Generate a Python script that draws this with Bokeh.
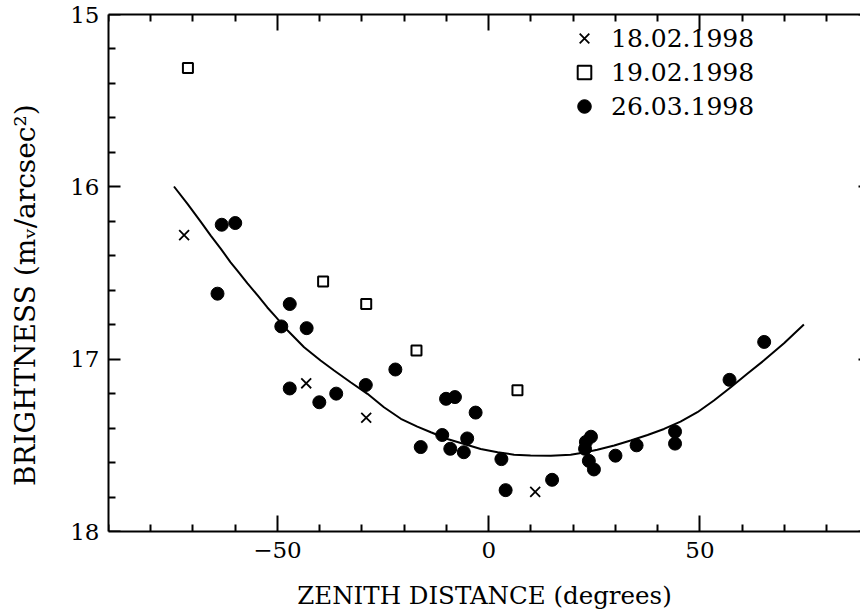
from bokeh.plotting import figure
from bokeh.models import Range1d, LinearAxis, FixedTicker
from bokeh.embed import file_html
from bokeh.resources import INLINE

# --- data ---
# 18.02.1998 (crosses)
z_180298 = [-72.1, -43.2, -29.0, 11.0]
b_180298 = [16.28, 17.14, 17.34, 17.77]
# 19.02.1998 (open squares)
z_190298 = [-71.2, -39.2, -29.0, -17.1, 6.8]
b_190298 = [15.31, 16.55, 16.68, 16.95, 17.18]
# 26.03.1998 (filled circles)
z_260398 = [-64.2, -63.2, -60.0, -49.1, -47.1, -43.1, -47.1, -40.1, -36.1, -29.1,
            -22.1, -16.1, -11.0, -10.1, -8.0, -9.1, -5.9, -5.1, -3.1, 3.0,
            4.0, 15.0, 24.2, 23.0, 22.8, 23.7, 24.9, 30.0, 35.0, 44.1,
            44.1, 57.0, 65.2]
b_260398 = [16.62, 16.22, 16.21, 16.81, 16.68, 16.82, 17.17, 17.25, 17.20, 17.15,
            17.06, 17.51, 17.44, 17.23, 17.22, 17.52, 17.54, 17.46, 17.31, 17.58,
            17.76, 17.70, 17.45, 17.48, 17.52, 17.59, 17.64, 17.56, 17.50, 17.42,
            17.49, 17.12, 16.90]
# fitted curve
curve_z = [-74.5, -71.3, -68.1, -65.8, -63.4, -61.1, -59.5, -57.1, -54.7, -52.4,
           -50.4, -47.6, -43.7, -39.8, -36.6, -32.7, -28.7, -24.8, -20.8, -16.9,
           -13.7, -9.8, -5.8, -1.9, 2.1, 6.0, 9.9, 14.7, 19.4, 22.6,
           25.7, 29.7, 33.6, 37.6, 41.5, 45.4, 49.4, 53.3, 57.3, 61.2,
           65.1, 69.9, 74.6]
curve_b = [15.998, 16.099, 16.205, 16.283, 16.360, 16.438, 16.486, 16.560, 16.630, 16.700,
           16.755, 16.834, 16.931, 17.008, 17.066, 17.134, 17.201, 17.279, 17.346, 17.391,
           17.424, 17.463, 17.492, 17.521, 17.540, 17.554, 17.559, 17.561, 17.554, 17.542,
           17.526, 17.501, 17.472, 17.440, 17.405, 17.362, 17.308, 17.240, 17.163, 17.085,
           17.008, 16.908, 16.799]

x_major = [-50, 0, 50]
x_minor = [-90, -80, -70, -60, -40, -30, -20, -10, 10, 20, 30, 40, 60, 70, 80]
y_major = [15, 16, 17, 18]
y_minor = [15.2, 15.4, 15.6, 15.8, 16.2, 16.4, 16.6, 16.8, 17.2, 17.4, 17.6, 17.8]

labels = ["18.02.1998", "19.02.1998", "26.03.1998"]
x_title = "ZENITH DISTANCE (degrees)"
y_title = "BRIGHTNESS (m\u1d65/arcsec\u00b2)" + "\u00a0" * 5

FONT = "DejaVu Serif"

p = figure(width=860, height=615, x_range=Range1d(-90, 88.0), y_range=Range1d(18, 15),
           output_backend="svg", toolbar_location=None,
           x_axis_location=None, y_axis_location=None,
           min_border_left=108, min_border_right=0, min_border_top=14, min_border_bottom=84)
p.outline_line_color = None
p.background_fill_color = "white"
p.border_fill_color = "white"
p.xgrid.visible = False
p.ygrid.visible = False

NONE = FixedTicker(ticks=[], minor_ticks=[])


def base(ax):
    ax.major_tick_in = 0
    ax.major_tick_out = 0
    ax.minor_tick_in = 0
    ax.minor_tick_out = 0
    ax.axis_line_width = 2
    ax.axis_line_color = "black"
    ax.major_label_text_font = FONT
    ax.major_label_text_color = "black"
    ax.axis_label_text_font = FONT
    ax.axis_label_text_font_style = "normal"
    ax.axis_label_text_color = "black"


# label axes (frame lines + numbers + titles)
bottom = LinearAxis(ticker=FixedTicker(ticks=x_major, minor_ticks=[]), axis_label=x_title)
base(bottom)
bottom.major_label_text_font_size = "23px"
bottom.axis_label_text_font_size = "24.5px"
bottom.major_label_standoff = 10
bottom.axis_label_standoff = 20
p.add_layout(bottom, "below")

left = LinearAxis(ticker=FixedTicker(ticks=y_major, minor_ticks=[]), axis_label=y_title)
base(left)
left.major_label_text_font_size = "23px"
left.axis_label_text_font_size = "28px"
left.major_label_standoff = 9
left.axis_label_standoff = 25
p.add_layout(left, "left")

top = LinearAxis(ticker=NONE)
base(top)
p.add_layout(top, "above")


# inward tick marks: tick-only axes pinned on the frame edges, ticks pointing inwards
def ticks_on_edge(ticks, length, side, loc):
    ax = LinearAxis(ticker=FixedTicker(ticks=[], minor_ticks=ticks), fixed_location=loc)
    base(ax)
    ax.axis_line_color = None
    ax.minor_tick_out = length
    ax.minor_tick_line_width = 2
    ax.minor_tick_line_color = "black"
    p.add_layout(ax, side)


x0, x1 = p.x_range.start, p.x_range.end
yb, yt = p.y_range.start, p.y_range.end
ticks_on_edge(x_major, 16, "above", yb)   # bottom edge
ticks_on_edge(x_minor, 7, "above", yb)
ticks_on_edge(x_major, 16, "below", yt)   # top edge
ticks_on_edge(x_minor, 7, "below", yt)
ticks_on_edge(y_major, 12, "right", x0)   # left edge
ticks_on_edge(y_minor, 7, "right", x0)
ticks_on_edge(y_major, 2, "left", x1)     # right edge (frame is cut there)

p.line(curve_z, curve_b, line_width=2, color="black")
p.scatter(z_180298, b_180298, marker="x", size=14, line_width=1.8, color="black",
          legend_label=labels[0])
p.scatter(z_190298, b_190298, marker="square", size=10, line_width=2, line_color="black",
          fill_color=None, legend_label=labels[1])
p.scatter(z_260398, b_260398, marker="circle", size=13, line_color="black",
          fill_color="black", legend_label=labels[2])

lg = p.legend[0]
lg.location = (459, 408)
lg.label_text_font = FONT
lg.label_text_font_size = "25px"
lg.label_text_color = "black"
lg.glyph_width = 34
lg.glyph_height = 34
lg.label_height = 34
lg.spacing = 0
lg.padding = 0
lg.margin = 0
lg.label_standoff = 10
lg.border_line_color = None
lg.background_fill_alpha = 0

open("out.html", "w").write(file_html(p, INLINE))
